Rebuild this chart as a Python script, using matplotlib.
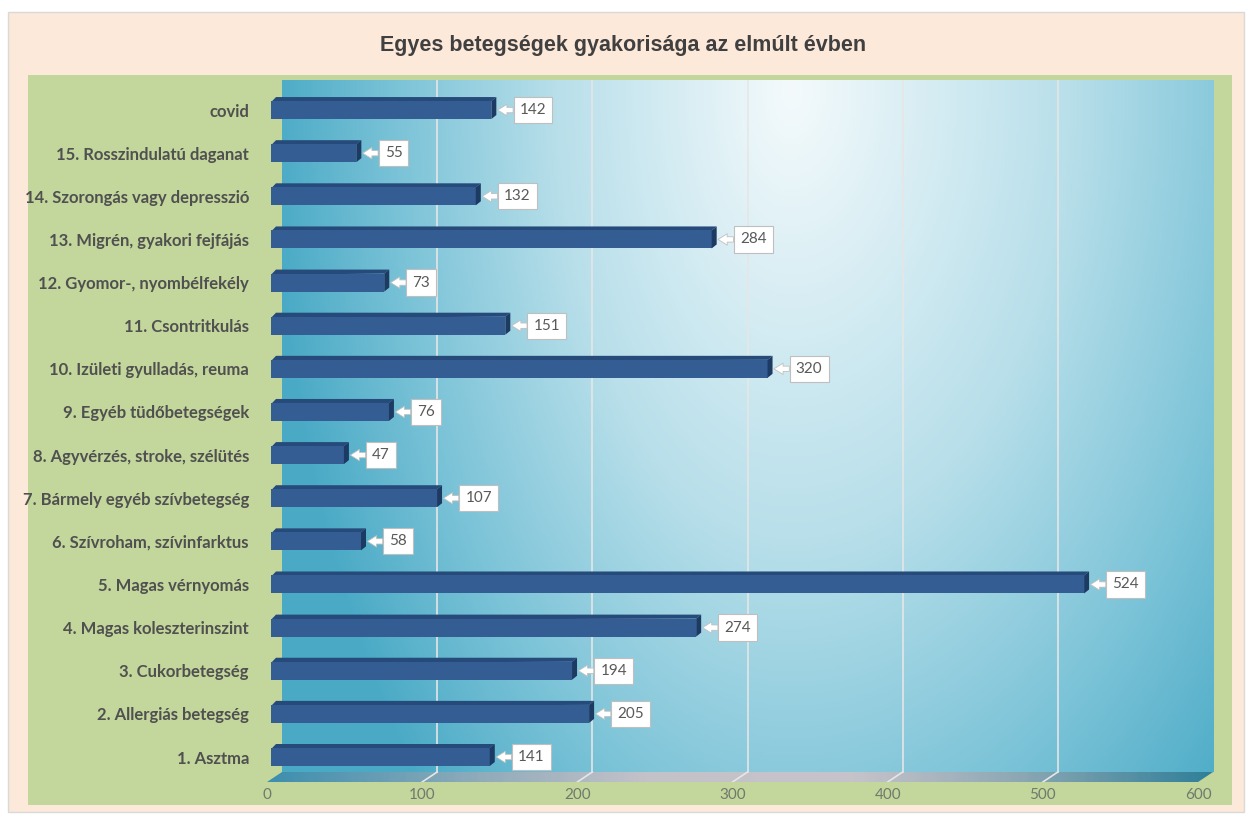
import numpy as np
import matplotlib
matplotlib.use("Agg")
import matplotlib.pyplot as plt
from matplotlib.patches import Rectangle, Polygon
from matplotlib.colors import LinearSegmentedColormap

# Adatok
kategoriak = [
    "1. Asztma",
    "2. Allergiás betegség",
    "3. Cukorbetegség",
    "4. Magas koleszterinszint",
    "5. Magas vérnyomás",
    "6. Szívroham, szívinfarktus",
    "7. Bármely egyéb szívbetegség",
    "8. Agyvérzés, stroke, szélütés",
    "9. Egyéb tüdőbetegségek",
    "10. Izületi gyulladás, reuma",
    "11. Csontritkulás",
    "12. Gyomor-, nyombélfekély",
    "13. Migrén, gyakori fejfájás",
    "14. Szorongás vagy depresszió",
    "15. Rosszindulatú daganat",
    "covid",
]
ertekek = [141, 205, 194, 274, 524, 58, 107, 47, 76, 320, 151, 73, 284, 132, 55, 142]
x_tickek = [0, 100, 200, 300, 400, 500, 600]
cim = "Egyes betegségek gyakorisága az elmúlt évben"

FONT = ["Lato", "DejaVu Sans"]
W, H = 1247, 817

fig = plt.figure(figsize=(W / 100, H / 100), dpi=100)
fig.patch.set_facecolor("white")

def px_rect(x0, y0, x1, y1, **kw):
    # pixel koordináták (felülről mérve) -> figure koordináták
    return Rectangle((x0 / W, 1 - y1 / H), (x1 - x0) / W, (y1 - y0) / H,
                     transform=fig.transFigure, zorder=-10, **kw)

fig.patches.append(px_rect(8, 12, 1244, 812, facecolor="#fde9d9", edgecolor="#d9d9d9", lw=1))
fig.patches.append(px_rect(28, 75, 1232, 805, facecolor="#c3d69b", edgecolor="none"))

fig.text(0.5, 1 - 45 / H, cim, ha="center", va="center", fontsize=15.5,
         fontweight="bold", color="#404040", family=["Liberation Sans", "DejaVu Sans"])

# tengely geometria (px -> adat)
px_per_x = 1.5517
px_per_y = 43.13
y_lo = (757 - 782) / px_per_y
y_hi = (757 - 80) / px_per_y
dx_wall = 15 / px_per_x
dy_wall = 10 / px_per_y
x_hi = 600 + dx_wall

left_px, right_px = 267, 267 + x_hi * px_per_x
ax = fig.add_axes([left_px / W, 1 - 782 / H, (right_px - left_px) / W, (782 - 80) / H])
ax.set_xlim(0, x_hi)
ax.set_ylim(y_lo, y_hi)
ax.patch.set_visible(False)
for s in ax.spines.values():
    s.set_visible(False)

# hátfal színátmenet
nx, ny = 400, 300
gx = np.linspace(282, 1212, nx)
gy = np.linspace(80, 772, ny)
GX, GY = np.meshgrid(gx, gy)
rx = np.where(GX < 790, 520, 620)
t = np.sqrt(((GX - 790) / rx) ** 2 + ((GY - 90) / 1000) ** 2)
t = np.clip(t, 0, 1)
fal_cmap = LinearSegmentedColormap.from_list(
    "fal", [(0, "#f4fafc"), (0.45, "#b8dfea"), (0.75, "#7dc4d8"), (1, "#4aaac6")])
ax.imshow(t, cmap=fal_cmap, vmin=0, vmax=1, aspect="auto", origin="upper",
          extent=(dx_wall, x_hi, y_lo + dy_wall, y_hi), zorder=0, interpolation="bilinear")

# padló
padlo = Polygon([(0, y_lo), (600, y_lo), (x_hi, y_lo + dy_wall), (dx_wall, y_lo + dy_wall)],
                closed=True, facecolor="none", edgecolor="none")
ax.add_patch(padlo)
padlo_cmap = LinearSegmentedColormap.from_list(
    "padlo", [(0, "#3d8fae"), (0.22, "#8fabba"), (0.4, "#c4c2c9"), (0.62, "#c6c3ca"),
              (0.8, "#8ba7b3"), (1, "#2f7f99")])
im = ax.imshow(np.linspace(0, 1, 300)[None, :], cmap=padlo_cmap, aspect="auto",
               extent=(0, x_hi, y_lo, y_lo + dy_wall), zorder=1)
im.set_clip_path(padlo)

# rácsvonalak
for v in x_tickek[1:-1]:
    ax.plot([v + dx_wall, v + dx_wall], [y_lo + dy_wall, y_hi], color="#e6e6e6", lw=1.2, zorder=2)
    ax.plot([v, v + dx_wall], [y_lo, y_lo + dy_wall], color="#e6e6e6", lw=1.2, zorder=2)

# 3D oszlopok
x0 = 4 / px_per_x
h = 18 / px_per_y
ddx = 5 / px_per_x
ddy = 4 / px_per_y
for i, v in enumerate(ertekek):
    yb, yt = i - h / 2, i + h / 2
    ax.add_patch(Polygon([(x0 + ddx, yt + ddy), (x0 + v + ddx, yt + ddy), (x0 + v, yt), (x0, yt - ddy * 0.3)],
                         closed=True, facecolor="#264a7a", edgecolor="none", zorder=4))
    ax.add_patch(Rectangle((x0, yb), v, h, facecolor="#345d93", edgecolor="none", zorder=4))
    ax.add_patch(Polygon([(x0 + v, yb), (x0 + v + ddx, yb + ddy), (x0 + v + ddx, yt + ddy), (x0 + v, yt)],
                         closed=True, facecolor="#1d3a63", edgecolor="none", zorder=4))
    ax.annotate(str(v), xy=(x0 + v + ddx, i), xytext=(x0 + v + ddx + 15, i),
                ha="left", va="center", fontsize=11, color="#595959", family=FONT,
                bbox=dict(boxstyle="square,pad=0.4", fc="white", ec="#bfbfbf", lw=0.8),
                arrowprops=dict(arrowstyle="simple,head_length=0.6,head_width=0.75,tail_width=0.35",
                                fc="white", ec="#c0c0c0", lw=0.6, shrinkA=0, shrinkB=1),
                zorder=6)

ax.set_yticks(range(len(kategoriak)))
ax.set_yticklabels(kategoriak, fontsize=12, fontweight="bold", color="#505050", family=FONT)
ax.set_xticks(x_tickek)
ax.set_xticklabels([str(v) for v in x_tickek], fontsize=11, color="#707a6c", family=FONT)
ax.tick_params(axis="y", length=0, pad=13)
ax.tick_params(axis="x", length=0, pad=4)

fig.savefig("out.png", dpi=100)
